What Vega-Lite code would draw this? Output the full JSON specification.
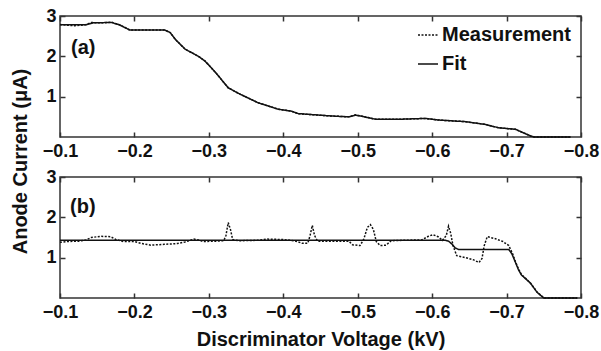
{
  "$schema": "https://vega.github.io/schema/vega-lite/v6.json",
  "background": "white",
  "padding": {"left": 9, "top": 6, "right": 5, "bottom": 2},
  "config": {
    "view": {"stroke": "#333", "strokeWidth": 1.5},
    "font": "Liberation Sans",
    "axis": {
      "labelFont": "Liberation Sans", "labelFontWeight": "bold", "labelFontSize": 18, "labelColor": "#111",
      "titleFont": "Liberation Sans", "titleFontWeight": "bold", "titleFontSize": 20, "titleColor": "#111",
      "grid": false, "domain": false, "tickColor": "#333", "tickSize": -5, "tickWidth": 1.5
    },
    "legend": {
      "labelFont": "Liberation Sans", "labelFontWeight": "bold", "labelFontSize": 20, "labelColor": "#111",
      "symbolType": "stroke", "symbolSize": 400, "symbolStrokeWidth": 1.5, "symbolStrokeColor": "#111",
      "rowPadding": 8, "labelOffset": 3
    }
  },
  "datasets": {
    "main": [
      {"panel": "a", "series": "Measurement", "v": -0.100, "i": 2.79},
      {"panel": "a", "series": "Measurement", "v": -0.110, "i": 2.77},
      {"panel": "a", "series": "Measurement", "v": -0.120, "i": 2.76},
      {"panel": "a", "series": "Measurement", "v": -0.134, "i": 2.78},
      {"panel": "a", "series": "Measurement", "v": -0.142, "i": 2.84},
      {"panel": "a", "series": "Measurement", "v": -0.151, "i": 2.83},
      {"panel": "a", "series": "Measurement", "v": -0.160, "i": 2.83},
      {"panel": "a", "series": "Measurement", "v": -0.169, "i": 2.85},
      {"panel": "a", "series": "Measurement", "v": -0.180, "i": 2.78},
      {"panel": "a", "series": "Measurement", "v": -0.188, "i": 2.71},
      {"panel": "a", "series": "Measurement", "v": -0.194, "i": 2.65},
      {"panel": "a", "series": "Measurement", "v": -0.218, "i": 2.65},
      {"panel": "a", "series": "Measurement", "v": -0.241, "i": 2.65},
      {"panel": "a", "series": "Measurement", "v": -0.248, "i": 2.59},
      {"panel": "a", "series": "Measurement", "v": -0.255, "i": 2.42},
      {"panel": "a", "series": "Measurement", "v": -0.268, "i": 2.18},
      {"panel": "a", "series": "Measurement", "v": -0.286, "i": 2.0},
      {"panel": "a", "series": "Measurement", "v": -0.295, "i": 1.88},
      {"panel": "a", "series": "Measurement", "v": -0.309, "i": 1.6},
      {"panel": "a", "series": "Measurement", "v": -0.326, "i": 1.22},
      {"panel": "a", "series": "Measurement", "v": -0.340, "i": 1.08},
      {"panel": "a", "series": "Measurement", "v": -0.366, "i": 0.85},
      {"panel": "a", "series": "Measurement", "v": -0.393, "i": 0.69},
      {"panel": "a", "series": "Measurement", "v": -0.411, "i": 0.64},
      {"panel": "a", "series": "Measurement", "v": -0.420, "i": 0.58},
      {"panel": "a", "series": "Measurement", "v": -0.465, "i": 0.52},
      {"panel": "a", "series": "Measurement", "v": -0.488, "i": 0.5},
      {"panel": "a", "series": "Measurement", "v": -0.497, "i": 0.55},
      {"panel": "a", "series": "Measurement", "v": -0.504, "i": 0.52},
      {"panel": "a", "series": "Measurement", "v": -0.524, "i": 0.44},
      {"panel": "a", "series": "Measurement", "v": -0.555, "i": 0.44},
      {"panel": "a", "series": "Measurement", "v": -0.591, "i": 0.46},
      {"panel": "a", "series": "Measurement", "v": -0.609, "i": 0.42},
      {"panel": "a", "series": "Measurement", "v": -0.645, "i": 0.38},
      {"panel": "a", "series": "Measurement", "v": -0.672, "i": 0.31},
      {"panel": "a", "series": "Measurement", "v": -0.689, "i": 0.23},
      {"panel": "a", "series": "Measurement", "v": -0.712, "i": 0.19},
      {"panel": "a", "series": "Measurement", "v": -0.733, "i": 0.02},
      {"panel": "a", "series": "Measurement", "v": -0.737, "i": 0.0},
      {"panel": "a", "series": "Measurement", "v": -0.786, "i": 0.0},
      {"panel": "a", "series": "Fit", "v": -0.100, "i": 2.78},
      {"panel": "a", "series": "Fit", "v": -0.134, "i": 2.78},
      {"panel": "a", "series": "Fit", "v": -0.145, "i": 2.83},
      {"panel": "a", "series": "Fit", "v": -0.169, "i": 2.84},
      {"panel": "a", "series": "Fit", "v": -0.180, "i": 2.78},
      {"panel": "a", "series": "Fit", "v": -0.194, "i": 2.65},
      {"panel": "a", "series": "Fit", "v": -0.241, "i": 2.65},
      {"panel": "a", "series": "Fit", "v": -0.248, "i": 2.59},
      {"panel": "a", "series": "Fit", "v": -0.255, "i": 2.42},
      {"panel": "a", "series": "Fit", "v": -0.268, "i": 2.18},
      {"panel": "a", "series": "Fit", "v": -0.286, "i": 2.0},
      {"panel": "a", "series": "Fit", "v": -0.295, "i": 1.88},
      {"panel": "a", "series": "Fit", "v": -0.309, "i": 1.6},
      {"panel": "a", "series": "Fit", "v": -0.326, "i": 1.22},
      {"panel": "a", "series": "Fit", "v": -0.340, "i": 1.08},
      {"panel": "a", "series": "Fit", "v": -0.366, "i": 0.85},
      {"panel": "a", "series": "Fit", "v": -0.393, "i": 0.69},
      {"panel": "a", "series": "Fit", "v": -0.411, "i": 0.64},
      {"panel": "a", "series": "Fit", "v": -0.420, "i": 0.58},
      {"panel": "a", "series": "Fit", "v": -0.465, "i": 0.52},
      {"panel": "a", "series": "Fit", "v": -0.488, "i": 0.5},
      {"panel": "a", "series": "Fit", "v": -0.497, "i": 0.54},
      {"panel": "a", "series": "Fit", "v": -0.504, "i": 0.52},
      {"panel": "a", "series": "Fit", "v": -0.524, "i": 0.44},
      {"panel": "a", "series": "Fit", "v": -0.555, "i": 0.44},
      {"panel": "a", "series": "Fit", "v": -0.591, "i": 0.46},
      {"panel": "a", "series": "Fit", "v": -0.609, "i": 0.42},
      {"panel": "a", "series": "Fit", "v": -0.645, "i": 0.38},
      {"panel": "a", "series": "Fit", "v": -0.672, "i": 0.31},
      {"panel": "a", "series": "Fit", "v": -0.689, "i": 0.23},
      {"panel": "a", "series": "Fit", "v": -0.712, "i": 0.19},
      {"panel": "a", "series": "Fit", "v": -0.733, "i": 0.02},
      {"panel": "a", "series": "Fit", "v": -0.737, "i": 0.0},
      {"panel": "a", "series": "Fit", "v": -0.786, "i": 0.0},
      {"panel": "b", "series": "Measurement", "v": -0.100, "i": 1.38},
      {"panel": "b", "series": "Measurement", "v": -0.110, "i": 1.40},
      {"panel": "b", "series": "Measurement", "v": -0.125, "i": 1.41},
      {"panel": "b", "series": "Measurement", "v": -0.135, "i": 1.44},
      {"panel": "b", "series": "Measurement", "v": -0.142, "i": 1.50},
      {"panel": "b", "series": "Measurement", "v": -0.155, "i": 1.53},
      {"panel": "b", "series": "Measurement", "v": -0.168, "i": 1.52},
      {"panel": "b", "series": "Measurement", "v": -0.175, "i": 1.45},
      {"panel": "b", "series": "Measurement", "v": -0.185, "i": 1.40},
      {"panel": "b", "series": "Measurement", "v": -0.200, "i": 1.40},
      {"panel": "b", "series": "Measurement", "v": -0.210, "i": 1.35},
      {"panel": "b", "series": "Measurement", "v": -0.222, "i": 1.31},
      {"panel": "b", "series": "Measurement", "v": -0.240, "i": 1.33},
      {"panel": "b", "series": "Measurement", "v": -0.258, "i": 1.35},
      {"panel": "b", "series": "Measurement", "v": -0.268, "i": 1.39},
      {"panel": "b", "series": "Measurement", "v": -0.280, "i": 1.46},
      {"panel": "b", "series": "Measurement", "v": -0.286, "i": 1.44},
      {"panel": "b", "series": "Measurement", "v": -0.292, "i": 1.40},
      {"panel": "b", "series": "Measurement", "v": -0.310, "i": 1.41},
      {"panel": "b", "series": "Measurement", "v": -0.320, "i": 1.42},
      {"panel": "b", "series": "Measurement", "v": -0.323, "i": 1.55},
      {"panel": "b", "series": "Measurement", "v": -0.326, "i": 1.87},
      {"panel": "b", "series": "Measurement", "v": -0.329, "i": 1.70},
      {"panel": "b", "series": "Measurement", "v": -0.332, "i": 1.45},
      {"panel": "b", "series": "Measurement", "v": -0.340, "i": 1.42},
      {"panel": "b", "series": "Measurement", "v": -0.365, "i": 1.43},
      {"panel": "b", "series": "Measurement", "v": -0.378, "i": 1.46},
      {"panel": "b", "series": "Measurement", "v": -0.400, "i": 1.45},
      {"panel": "b", "series": "Measurement", "v": -0.415, "i": 1.42},
      {"panel": "b", "series": "Measurement", "v": -0.425, "i": 1.36},
      {"panel": "b", "series": "Measurement", "v": -0.433, "i": 1.36},
      {"panel": "b", "series": "Measurement", "v": -0.436, "i": 1.55},
      {"panel": "b", "series": "Measurement", "v": -0.439, "i": 1.80},
      {"panel": "b", "series": "Measurement", "v": -0.442, "i": 1.55},
      {"panel": "b", "series": "Measurement", "v": -0.446, "i": 1.41},
      {"panel": "b", "series": "Measurement", "v": -0.460, "i": 1.41},
      {"panel": "b", "series": "Measurement", "v": -0.488, "i": 1.41},
      {"panel": "b", "series": "Measurement", "v": -0.493, "i": 1.32},
      {"panel": "b", "series": "Measurement", "v": -0.503, "i": 1.30},
      {"panel": "b", "series": "Measurement", "v": -0.508, "i": 1.45},
      {"panel": "b", "series": "Measurement", "v": -0.513, "i": 1.75},
      {"panel": "b", "series": "Measurement", "v": -0.517, "i": 1.82},
      {"panel": "b", "series": "Measurement", "v": -0.521, "i": 1.70},
      {"panel": "b", "series": "Measurement", "v": -0.525, "i": 1.40},
      {"panel": "b", "series": "Measurement", "v": -0.530, "i": 1.30},
      {"panel": "b", "series": "Measurement", "v": -0.538, "i": 1.31},
      {"panel": "b", "series": "Measurement", "v": -0.545, "i": 1.42},
      {"panel": "b", "series": "Measurement", "v": -0.560, "i": 1.43},
      {"panel": "b", "series": "Measurement", "v": -0.586, "i": 1.44},
      {"panel": "b", "series": "Measurement", "v": -0.595, "i": 1.53},
      {"panel": "b", "series": "Measurement", "v": -0.601, "i": 1.57},
      {"panel": "b", "series": "Measurement", "v": -0.608, "i": 1.52},
      {"panel": "b", "series": "Measurement", "v": -0.614, "i": 1.43},
      {"panel": "b", "series": "Measurement", "v": -0.619, "i": 1.55},
      {"panel": "b", "series": "Measurement", "v": -0.622, "i": 1.78},
      {"panel": "b", "series": "Measurement", "v": -0.625, "i": 1.60},
      {"panel": "b", "series": "Measurement", "v": -0.628, "i": 1.30},
      {"panel": "b", "series": "Measurement", "v": -0.633, "i": 1.05},
      {"panel": "b", "series": "Measurement", "v": -0.645, "i": 1.00},
      {"panel": "b", "series": "Measurement", "v": -0.655, "i": 0.95},
      {"panel": "b", "series": "Measurement", "v": -0.663, "i": 0.88},
      {"panel": "b", "series": "Measurement", "v": -0.667, "i": 0.98},
      {"panel": "b", "series": "Measurement", "v": -0.670, "i": 1.30},
      {"panel": "b", "series": "Measurement", "v": -0.674, "i": 1.52},
      {"panel": "b", "series": "Measurement", "v": -0.685, "i": 1.47},
      {"panel": "b", "series": "Measurement", "v": -0.695, "i": 1.40},
      {"panel": "b", "series": "Measurement", "v": -0.703, "i": 1.30},
      {"panel": "b", "series": "Measurement", "v": -0.708, "i": 1.10},
      {"panel": "b", "series": "Measurement", "v": -0.712, "i": 0.90},
      {"panel": "b", "series": "Measurement", "v": -0.716, "i": 0.72},
      {"panel": "b", "series": "Measurement", "v": -0.720, "i": 0.58},
      {"panel": "b", "series": "Measurement", "v": -0.726, "i": 0.48},
      {"panel": "b", "series": "Measurement", "v": -0.732, "i": 0.37},
      {"panel": "b", "series": "Measurement", "v": -0.741, "i": 0.15},
      {"panel": "b", "series": "Measurement", "v": -0.750, "i": 0.0},
      {"panel": "b", "series": "Measurement", "v": -0.795, "i": 0.0},
      {"panel": "b", "series": "Fit", "v": -0.100, "i": 1.43},
      {"panel": "b", "series": "Fit", "v": -0.618, "i": 1.43},
      {"panel": "b", "series": "Fit", "v": -0.622, "i": 1.41},
      {"panel": "b", "series": "Fit", "v": -0.627, "i": 1.33},
      {"panel": "b", "series": "Fit", "v": -0.631, "i": 1.24},
      {"panel": "b", "series": "Fit", "v": -0.636, "i": 1.20},
      {"panel": "b", "series": "Fit", "v": -0.703, "i": 1.20},
      {"panel": "b", "series": "Fit", "v": -0.707, "i": 1.10},
      {"panel": "b", "series": "Fit", "v": -0.712, "i": 0.88},
      {"panel": "b", "series": "Fit", "v": -0.716, "i": 0.70},
      {"panel": "b", "series": "Fit", "v": -0.720, "i": 0.57},
      {"panel": "b", "series": "Fit", "v": -0.726, "i": 0.47},
      {"panel": "b", "series": "Fit", "v": -0.732, "i": 0.37},
      {"panel": "b", "series": "Fit", "v": -0.741, "i": 0.14},
      {"panel": "b", "series": "Fit", "v": -0.750, "i": 0.0},
      {"panel": "b", "series": "Fit", "v": -0.795, "i": 0.0}
    ],
    "labels": [
      {"panel": "a", "label": "(a)", "v": -0.1148, "i": 2.21},
      {"panel": "b", "label": "(b)", "v": -0.1135, "i": 2.25}
    ]
  },
  "bounds": "flush",
  "spacing": 40,
  "resolve": {"scale": {"strokeDash": "independent"}, "legend": {"strokeDash": "independent"}},
  "vconcat": [
    {
      "width": 521,
      "height": 121,
      "data": {"name": "main"},
      "transform": [{"filter": "datum.panel == 'a'"}],
      "layer": [
        {
          "mark": {"type": "line", "color": "#111", "strokeWidth": 1.5},
          "encoding": {
            "x": {"field": "v", "type": "quantitative",
                  "scale": {"domain": [-0.8, -0.1], "reverse": true, "nice": false, "zero": false},
                  "axis": {"values": [-0.1, -0.2, -0.3, -0.4, -0.5, -0.6, -0.7, -0.8], "format": ".1f", "title": null, "labelFlush": false, "labelPadding": 10}},
            "y": {"field": "i", "type": "quantitative",
                  "scale": {"domain": [0, 3], "nice": false},
                  "axis": {"values": [1, 2, 3], "title": "Anode Current (μA)", "titleX": -40, "titleY": 145, "titleBaseline": "middle", "labelPadding": 9}},
            "strokeDash": {"field": "series", "type": "nominal",
                  "scale": {"domain": ["Measurement", "Fit"], "range": [[2, 1.5], [1, 0]]},
                  "legend": {"title": null, "orient": "none", "legendX": 357, "legendY": 8}},
            "detail": {"field": "series"}
          }
        },
        {
          "data": {"name": "labels"},
          "transform": [{"filter": "datum.panel == 'a'"}],
          "mark": {"type": "text", "align": "left", "baseline": "middle", "font": "Liberation Sans", "fontWeight": "bold", "fontSize": 20, "color": "#111"},
          "encoding": {
            "x": {"field": "v", "type": "quantitative", "axis": null},
            "y": {"field": "i", "type": "quantitative", "axis": null},
            "text": {"field": "label"}
          }
        },
        {
          "mark": {"type": "point", "opacity": 0},
          "encoding": {
            "x": {"field": "v", "type": "quantitative", "axis": {"orient": "top", "labels": false, "title": null, "values": [-0.1, -0.2, -0.3, -0.4, -0.5, -0.6, -0.7, -0.8]}},
            "y": {"field": "i", "type": "quantitative", "axis": {"orient": "right", "labels": false, "title": null, "values": [1, 2, 3]}}
          }
        }
      ],
      "resolve": {"axis": {"x": "independent", "y": "independent"}}
    },
    {
      "width": 521,
      "height": 121,
      "data": {"name": "main"},
      "transform": [{"filter": "datum.panel == 'b'"}],
      "layer": [
        {
          "mark": {"type": "line", "color": "#111", "strokeWidth": 1.5},
          "encoding": {
            "x": {"field": "v", "type": "quantitative",
                  "scale": {"domain": [-0.8, -0.1], "reverse": true, "nice": false, "zero": false},
                  "axis": {"values": [-0.1, -0.2, -0.3, -0.4, -0.5, -0.6, -0.7, -0.8], "format": ".1f", "title": "Discriminator Voltage (kV)", "labelFlush": false, "labelPadding": 10, "titlePadding": 8}},
            "y": {"field": "i", "type": "quantitative",
                  "scale": {"domain": [0, 3], "nice": false},
                  "axis": {"values": [1, 2, 3], "title": null, "labelPadding": 9}},
            "strokeDash": {"field": "series", "type": "nominal",
                  "scale": {"domain": ["Measurement", "Fit"], "range": [[2, 1.5], [1, 0]]},
                  "legend": null},
            "strokeWidth": {"field": "series", "type": "nominal",
                  "scale": {"domain": ["Measurement", "Fit"], "range": [1.5, 2]},
                  "legend": null}
          }
        },
        {
          "data": {"name": "labels"},
          "transform": [{"filter": "datum.panel == 'b'"}],
          "mark": {"type": "text", "align": "left", "baseline": "middle", "font": "Liberation Sans", "fontWeight": "bold", "fontSize": 20, "color": "#111"},
          "encoding": {
            "x": {"field": "v", "type": "quantitative", "axis": null},
            "y": {"field": "i", "type": "quantitative", "axis": null},
            "text": {"field": "label"}
          }
        },
        {
          "mark": {"type": "point", "opacity": 0},
          "encoding": {
            "x": {"field": "v", "type": "quantitative", "axis": {"orient": "top", "labels": false, "title": null, "values": [-0.1, -0.2, -0.3, -0.4, -0.5, -0.6, -0.7, -0.8]}},
            "y": {"field": "i", "type": "quantitative", "axis": {"orient": "right", "labels": false, "title": null, "values": [1, 2, 3]}}
          }
        }
      ],
      "resolve": {"axis": {"x": "independent", "y": "independent"}}
    }
  ]
}
